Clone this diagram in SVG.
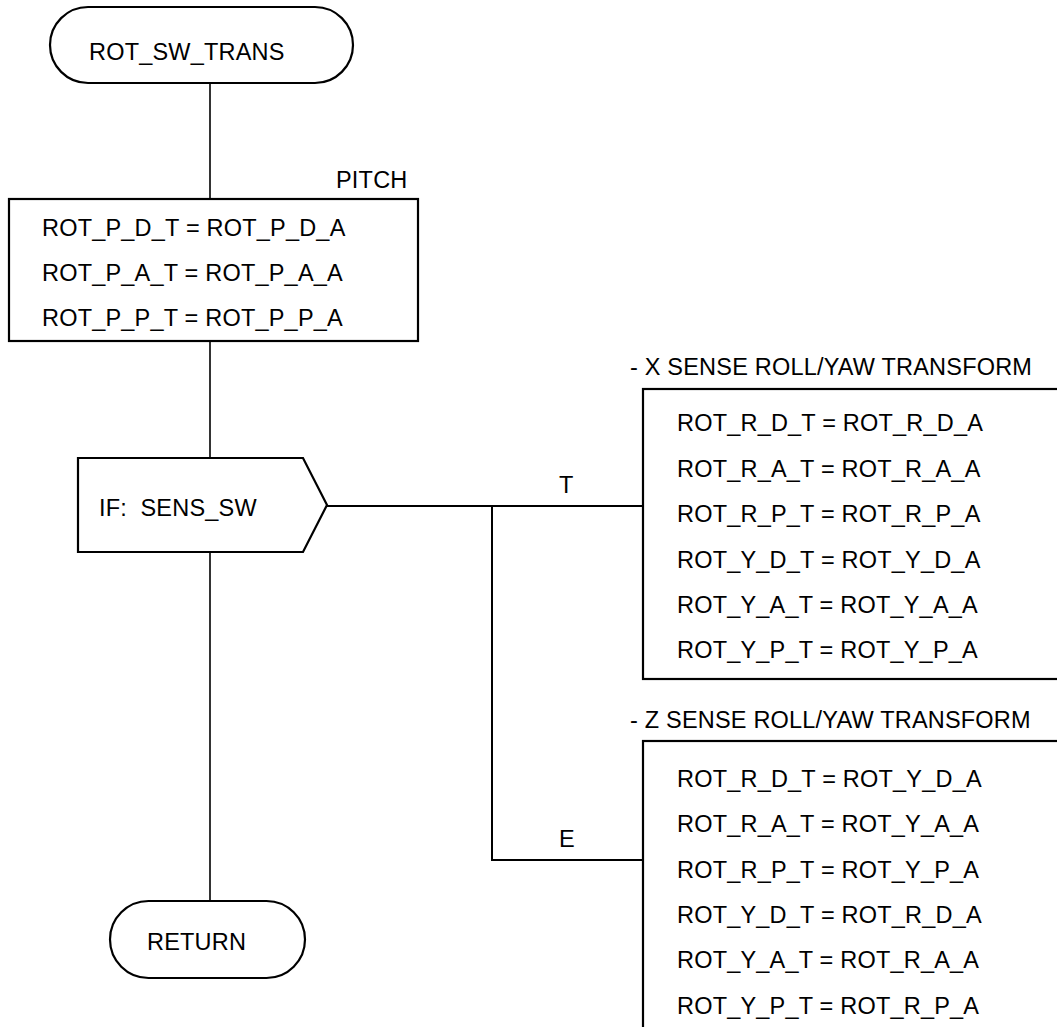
<svg xmlns="http://www.w3.org/2000/svg" width="1057" height="1027" viewBox="0 0 1057 1027">
<style>
text{font-family:"Liberation Sans",Arial,sans-serif;font-size:23.5px;letter-spacing:0.2px;fill:#000}
.s{fill:#fff;stroke:#000;stroke-width:2.2}
.c{fill:none;stroke:#000;stroke-width:2}
</style>
<rect width="1057" height="1027" fill="#fff"/>
<g id="connectors">
<line class="c" x1="210" y1="83" x2="210" y2="199" style="stroke-width:1.6"/>
<line class="c" x1="210" y1="341" x2="210" y2="458" style="stroke-width:1.6"/>
<line class="c" x1="210" y1="552" x2="210" y2="901" style="stroke-width:1.6"/>
<polyline class="c" points="327,506 643,506"/>
<polyline class="c" points="492,506 492,860 643,860"/>
<text x="559" y="493">T</text>
<text x="559" y="847">E</text>
</g>
<g id="start">
<rect class="s" x="50" y="7" width="303" height="76" rx="38" ry="38"/>
<text x="89" y="60">ROT_SW_TRANS</text>
</g>
<g id="pitch">
<text x="336" y="188">PITCH</text>
<rect class="s" x="9" y="199" width="409" height="142"/>
<text x="42" y="236">ROT_P_D_T = ROT_P_D_A</text>
<text x="42" y="281">ROT_P_A_T = ROT_P_A_A</text>
<text x="42" y="326">ROT_P_P_T = ROT_P_P_A</text>
</g>
<g id="if">
<polygon class="s" points="78,458 303,458 327,505 303,552 78,552"/>
<text x="99" y="516" xml:space="preserve">IF:  SENS_SW</text>
</g>
<g id="xsense">
<text x="630" y="375">- X SENSE ROLL/YAW TRANSFORM</text>
<rect class="s" x="643" y="389" width="430" height="290"/>
<text x="677" y="431">ROT_R_D_T = ROT_R_D_A</text>
<text x="677" y="477">ROT_R_A_T = ROT_R_A_A</text>
<text x="677" y="522">ROT_R_P_T = ROT_R_P_A</text>
<text x="677" y="568">ROT_Y_D_T = ROT_Y_D_A</text>
<text x="677" y="613">ROT_Y_A_T = ROT_Y_A_A</text>
<text x="677" y="658">ROT_Y_P_T = ROT_Y_P_A</text>
</g>
<g id="zsense">
<text x="630" y="728">- Z SENSE ROLL/YAW TRANSFORM</text>
<rect class="s" x="643" y="741" width="430" height="300"/>
<text x="677" y="787">ROT_R_D_T = ROT_Y_D_A</text>
<text x="677" y="832">ROT_R_A_T = ROT_Y_A_A</text>
<text x="677" y="878">ROT_R_P_T = ROT_Y_P_A</text>
<text x="677" y="923">ROT_Y_D_T = ROT_R_D_A</text>
<text x="677" y="968">ROT_Y_A_T = ROT_R_A_A</text>
<text x="677" y="1014">ROT_Y_P_T = ROT_R_P_A</text>
</g>
<g id="return">
<rect class="s" x="110" y="901" width="195" height="77" rx="38.5" ry="38.5"/>
<text x="147" y="950">RETURN</text>
</g>
</svg>
